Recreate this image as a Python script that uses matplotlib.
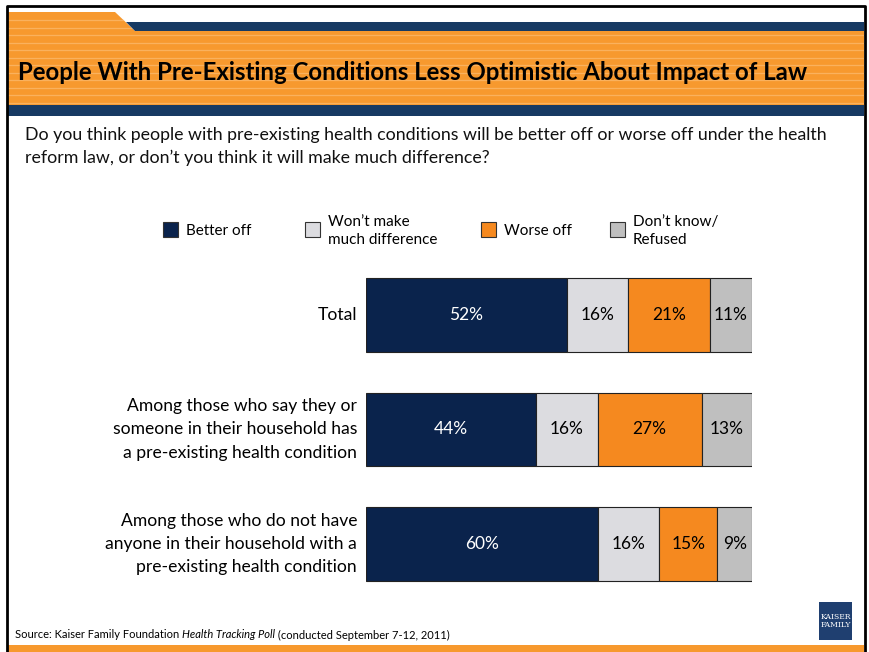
import matplotlib.pyplot as plt
import matplotlib.patches as mpatches
import numpy as np

plt.rcParams['font.family'] = ['Lato', 'DejaVu Sans']

# survey results, percent
groups = ['Total',
          'Among those who say they or\nsomeone in their household has\na pre-existing health condition',
          'Among those who do not have\nanyone in their household with a\npre-existing health condition']
responses = ['Better off', 'Won\u2019t make\nmuch difference', 'Worse off', 'Don\u2019t know/\nRefused']
better = [52, 44, 60]
no_diff = [16, 16, 16]
worse = [21, 27, 15]
dont_know = [11, 13, 9]

colors = ['#0a234c', '#dcdce0', '#f5891f', '#bfbfbf']
text_colors = ['white', 'black', 'black', 'black']

W, H = 869, 652
fig = plt.figure(figsize=(W / 100, H / 100), dpi=100)

# background layer in pixel coordinates
bg = fig.add_axes([0, 0, 1, 1])
bg.set_xlim(0, W)
bg.set_ylim(H, 0)
bg.axis('off')

orange = '#f7992e'
navy = '#173a63'
# header: orange tab + band, navy stripes
bg.add_patch(mpatches.Polygon([(8, 12), (115, 12), (135, 31), (864, 31), (864, 105), (8, 105)],
                              closed=True, facecolor=orange, edgecolor='none'))
bg.add_patch(mpatches.Rectangle((135, 22), 729, 9, facecolor=navy, edgecolor='none'))
bg.add_patch(mpatches.Polygon([(126, 22), (135, 31), (135, 22)], closed=True,
                              facecolor=navy, edgecolor='none'))
for yy in np.arange(20, 104, 7.5):
    x0 = 8
    x1 = 864 if yy > 31 else 115 + (yy - 12) * 20 / 19
    bg.plot([x0, x1], [yy, yy], color='#fbb869', lw=0.9, alpha=0.8)
bg.add_patch(mpatches.Rectangle((8, 105), 856, 11, facecolor=navy, edgecolor='none'))
# bottom orange strip
bg.add_patch(mpatches.Rectangle((8, 645), 856, 7, facecolor=orange, edgecolor='none'))
# frame
bg.plot([7, 7, 865, 865], [652, 6, 6, 652], color='black', lw=2, solid_capstyle='butt')

bg.text(18, 73, 'People With Pre-Existing Conditions Less Optimistic About Impact of Law',
        fontsize=17.3, fontweight='bold', va='center', ha='left', color='black')
bg.text(25, 127, 'Do you think people with pre-existing health conditions will be better off or worse off under the health\n'
        'reform law, or don\u2019t you think it will make much difference?',
        fontsize=12.8, va='top', ha='left', linespacing=1.5, color='#111111')

# legend
leg_sq = [163, 305, 481, 610]
for x, c, lab in zip(leg_sq, colors, responses):
    bg.add_patch(mpatches.Rectangle((x, 222), 15, 15, facecolor=c, edgecolor='#333333', lw=0.8))
    bg.text(x + 23, 231, lab, fontsize=11, va='center', ha='left', linespacing=1.35)

# source line, pieces laid out one after another
renderer = fig.canvas.get_renderer()
x = 15
for piece, st in [('Source: Kaiser Family Foundation ', 'normal'),
                  ('Health Tracking Poll', 'italic'),
                  (' (conducted September 7-12, 2011)', 'normal')]:
    t = bg.text(x, 635, piece, fontsize=8.05, style=st, va='center', ha='left')
    bb = t.get_window_extent(renderer)
    x += bb.width * W / fig.bbox.width

# logo block
bg.add_patch(mpatches.Rectangle((819, 602), 33, 38, facecolor='#1f3f70', edgecolor='none'))
bg.text(835.5, 621, 'KAISER\nFAMILY', fontsize=5.5, color='white', ha='center', va='center',
        family='DejaVu Serif', linespacing=1.0)

# stacked bars
left_px, right_px = 366, 752
top_px, bot_px = 257.75, 601.25
ax = fig.add_axes([left_px / W, 1 - bot_px / H, (right_px - left_px) / W, (bot_px - top_px) / H])
ax.patch.set_alpha(0)
ypos = np.arange(len(groups))
series = [better, no_diff, worse, dont_know]
left = np.zeros(len(groups))
for vals, c, tc in zip(series, colors, text_colors):
    vals = np.array(vals, dtype=float)
    ax.barh(ypos, vals, left=left, height=0.646, color=c, edgecolor='#222222', lw=0.8)
    for y, l, v in zip(ypos, left, vals):
        ax.text(l + v / 2, y, f'{int(v)}%', ha='center', va='center', color=tc, fontsize=12.5)
    left += vals
ax.set_xlim(0, 100)
ax.set_ylim(len(groups) - 0.5, -0.5)
ax.axis('off')
for y, g in zip(ypos, groups):
    ax.text(-2.3, y, g, ha='right', va='center', fontsize=12.65, linespacing=1.56)

fig.savefig('out.png', dpi=100)
